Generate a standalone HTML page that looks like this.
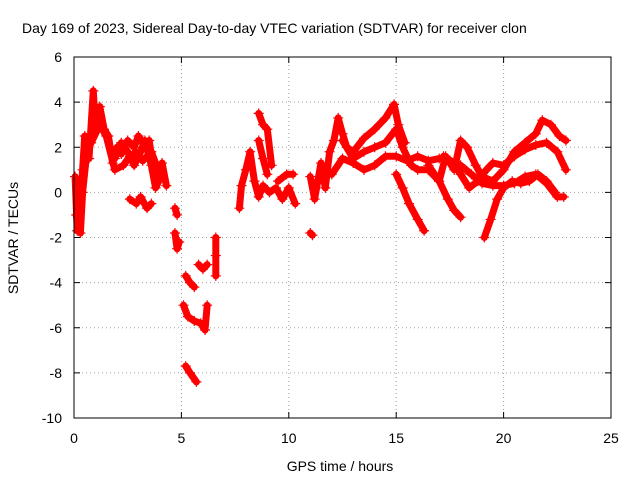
<!DOCTYPE html>
<html><head><meta charset="utf-8"><style>
html,body{margin:0;padding:0;background:#fff;}
svg{display:block;font-family:"Liberation Sans",sans-serif;}
</style></head><body>
<svg id="chart" width="640" height="480" xmlns="http://www.w3.org/2000/svg">
<rect width="640" height="480" fill="#fff"/>
<text x="22" y="33" font-size="14" fill="#000">Day 169 of 2023, Sidereal Day-to-day VTEC variation (SDTVAR) for receiver clon</text>
<text x="340" y="471" font-size="14" text-anchor="middle">GPS time / hours</text>
<text transform="translate(18,238) rotate(-90)" font-size="14" text-anchor="middle">SDTVAR / TECUs</text>
<g id="grid"></g>
<g id="ticks"></g>
<g id="series"></g>
<rect x="74" y="57" width="537" height="361" fill="none" stroke="#000" stroke-width="1"/>
</svg>
<script>
const xTicks=[0,5,10,15,20,25];
const yTicks=[-10,-8,-6,-4,-2,0,2,4,6];
const tracks=[
[[0.05,0.7],[0.15,-1.7],[0.3,-0.5],[0.4,1.0],[0.5,2.5],[0.7,1.5],[0.9,4.5],[1.0,2.8],[1.2,3.8],[1.4,2.8],[1.6,2.5],[1.8,1.3],[2.0,2.0],[2.2,1.7],[2.5,2.3],[2.8,2.0],[3.0,2.5],[3.3,2.0],[3.5,2.3],[3.7,1.0],[3.9,0.5],[4.1,1.3],[4.3,0.3]],
[[0.1,-1.0],[0.3,-1.8],[0.4,0.0],[0.6,1.8],[0.8,2.2],[1.2,3.0],[1.5,2.5],[1.9,1.0],[2.3,1.2],[2.6,1.6],[2.9,1.8],[3.2,1.4],[3.6,1.8],[4.0,0.8]],
[[1.9,1.5],[2.2,2.2],[2.5,1.8],[2.8,1.2],[3.1,1.8],[3.3,2.3],[3.6,1.2],[3.8,0.2],[4.1,0.8]],
[[2.6,-0.3],[2.9,-0.5],[3.1,-0.2],[3.4,-0.7],[3.6,-0.5]],
[[4.7,-0.7],[4.8,-1.0]],
[[4.7,-1.8],[4.8,-2.5],[4.9,-2.2]],
[[5.2,-3.7],[5.4,-4.0],[5.6,-4.2]],
[[5.1,-5.0],[5.3,-5.5],[5.6,-5.7],[5.9,-5.8],[6.1,-6.1],[6.2,-5.0]],
[[5.2,-7.7],[5.4,-8.0],[5.7,-8.4]],
[[5.8,-3.2],[6.0,-3.4],[6.2,-3.2]],
[[6.6,-2.0],[6.6,-2.8],[6.6,-3.7]],
[[7.7,-0.7],[7.8,0.3],[8.0,1.0],[8.2,1.8],[8.4,0.5],[8.6,-0.2],[8.8,0.3],[9.1,0.0],[9.4,0.2],[9.7,-0.3],[10.0,0.2],[10.3,-0.5]],
[[8.6,3.5],[8.8,3.0],[9.0,2.8],[9.2,1.2]],
[[8.6,2.3],[8.8,1.5],[9.0,0.8]],
[[9.5,0.5],[9.9,0.8],[10.2,0.8]],
[[11.0,-1.8],[11.1,-1.9]],
[[11.0,0.7],[11.2,-0.3],[11.5,1.3],[11.7,0.2],[11.9,1.8],[12.1,2.3],[12.3,3.3],[12.5,2.6],[12.7,2.0],[13.0,1.8],[13.5,2.4],[14.0,2.8],[14.5,3.3],[14.9,3.9],[15.1,3.0],[15.4,2.2]],
[[12.0,0.8],[12.5,1.5],[13.0,1.3],[13.5,1.0],[14.0,1.2],[14.5,1.6],[15.0,1.6],[15.5,1.4],[16.0,1.6],[16.5,1.4],[17.0,1.5],[17.5,1.4],[18.0,1.2],[18.5,0.8],[19.0,0.4],[19.5,0.3],[20.0,0.3],[20.5,0.4],[21.0,0.7],[21.5,0.8],[22.0,0.4],[22.5,-0.2],[22.8,-0.2]],
[[12.5,2.3],[13.0,1.5],[13.5,1.8],[14.0,2.0],[14.5,2.2],[15.0,2.8],[15.3,2.0],[15.7,1.2],[16.0,1.0],[16.5,1.0],[17.0,0.5],[17.3,1.6],[17.7,1.0],[18.0,2.3],[18.3,2.0],[18.7,1.2],[19.0,0.7],[19.5,0.5],[20.0,1.0],[20.5,1.8],[21.0,2.2],[21.5,2.6],[21.8,3.2],[22.2,3.0],[22.6,2.5],[22.9,2.3]],
[[15.0,0.8],[15.3,0.2],[15.6,-0.5],[16.0,-1.2],[16.3,-1.7]],
[[16.5,1.2],[17.0,0.5],[17.4,-0.3],[17.7,-0.8],[18.0,-1.1]],
[[17.2,1.6],[17.7,1.3],[18.0,0.8],[18.4,0.2],[18.8,0.5],[19.2,1.0],[19.5,1.3],[20.0,1.2],[20.5,1.6],[21.0,1.9],[21.5,2.1],[22.0,2.2],[22.5,1.8],[22.9,1.0]],
[[19.1,-2.0],[19.4,-1.2],[19.7,-0.3],[20.0,0.2],[20.4,0.5],[20.8,0.4],[21.2,0.5],[21.6,0.8],[22.0,0.5],[22.4,0.0]]
];
const NS="http://www.w3.org/2000/svg";
const X0=74,X1=611,Y0=418,Y1=57;
const xs=v=>X0+(v-0)/(25-0)*(X1-X0);
const ys=v=>Y0-(v+10)/16*(Y0-Y1);
const grid=document.getElementById('grid'),ticks=document.getElementById('ticks'),series=document.getElementById('series');
function mk(tag,attrs,parent){const e=document.createElementNS(NS,tag);for(const k in attrs)e.setAttribute(k,attrs[k]);parent.appendChild(e);return e;}
xTicks.forEach(t=>{const x=xs(t);
 if(t>0&&t<25){const g=mk('line',{x1:x,x2:x,y1:Y0,y2:Y1,stroke:'#a0a0a0','stroke-dasharray':'1,3'},grid);
 
 }
 mk('line',{x1:x,x2:x,y1:Y0,y2:Y0-6,stroke:'#000'},ticks);
 mk('line',{x1:x,x2:x,y1:Y1,y2:Y1+6,stroke:'#000'},ticks);
 const l=mk('text',{x:x,y:443,'font-size':14,'text-anchor':'middle'},ticks);l.textContent=t;
 
 });
yTicks.forEach(t=>{const y=ys(t);
 if(t>-10&&t<6){const g=mk('line',{x1:X0,x2:X1,y1:y,y2:y,stroke:'#a0a0a0','stroke-dasharray':'1,3'},grid);
 
 }
 mk('line',{x1:X0,x2:X0+6,y1:y,y2:y,stroke:'#000'},ticks);
 mk('line',{x1:X1,x2:X1-6,y1:y,y2:y,stroke:'#000'},ticks);
 const l=mk('text',{x:62,y:y+5,'font-size':14,'text-anchor':'end'},ticks);l.textContent=t;
 
 });
tracks.forEach(tr=>{
 const pts=tr.map(p=>xs(p[0]).toFixed(1)+','+ys(p[1]).toFixed(1)).join(' ');
 const pl=mk('polyline',{points:pts,fill:'none',stroke:'#ff0000','stroke-width':7,'stroke-linejoin':'round','stroke-linecap':'round'},series);
 
 
 tr.forEach(p=>{const x=xs(p[0]),y=ys(p[1]);
  const m=mk('path',{d:`M${x-5},${y}H${x+5}M${x},${y-5}V${y+5}`,stroke:'#ff0000','stroke-width':1.2},series);
  
  });
});
</script>
</body></html>
